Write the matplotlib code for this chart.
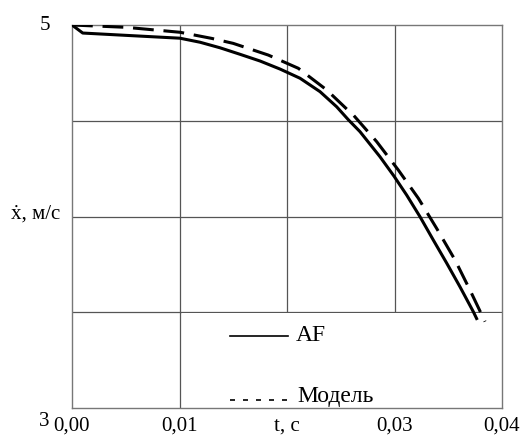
import matplotlib
matplotlib.use("Agg")
import matplotlib.pyplot as plt
from matplotlib.patches import Rectangle
from matplotlib.lines import Line2D

plt.rcParams['font.family'] = ['Liberation Serif', 'DejaVu Serif']

# Data
t_af = [0.0, 0.001, 0.005, 0.01005, 0.01191, 0.01377, 0.01563, 0.01749, 0.01935,
        0.02121, 0.02307, 0.02462, 0.02571, 0.02679, 0.02865, 0.02995, 0.03113,
        0.03237, 0.03361, 0.03486, 0.03609, 0.03733, 0.0377]
v_af = [5.0, 4.958, 4.946, 4.931, 4.910, 4.881, 4.847, 4.812, 4.770,
        4.722, 4.652, 4.573, 4.505, 4.443, 4.312, 4.211, 4.112,
        3.999, 3.877, 3.756, 3.633, 3.503, 3.460]

t_model = [0.0, 0.005, 0.01005, 0.013, 0.015, 0.01826, 0.02105, 0.02369, 0.02586,
           0.02617, 0.02834, 0.03035, 0.03222, 0.03392, 0.03563, 0.03702, 0.03842]
v_model = [5.0, 4.988, 4.962, 4.930, 4.904, 4.843, 4.774, 4.661, 4.545,
           4.530, 4.391, 4.243, 4.095, 3.938, 3.773, 3.616, 3.451]

x_ticks = [0.0, 0.01, 0.02, 0.03, 0.04]
x_ticklabels = ['0,00', '0,01', 't, c', '0,03', '0,04']
y_labels = [(5, '5'), (4, 'ẋ, м/с'), (3, '3')]
series_names = ['AF', 'Модель']

fig = plt.figure(figsize=(5.21, 4.45), dpi=100)
ax = fig.add_axes([72/521, (445-408)/445, 430/521, 383/445])
ax.set_xlim(0, 0.04)
ax.set_ylim(3, 5)

gcol = '#555555'
for xv in [0.01, 0.02, 0.03]:
    ax.axvline(xv, color=gcol, lw=0.9, zorder=1)
for yv in [3.5, 4.0, 4.5]:
    ax.axhline(yv, color=gcol, lw=0.9, zorder=1)
for s in ax.spines.values():
    s.set_color('#777777')
    s.set_linewidth(1.0)

# legend background box (covers grid lines)
ax.add_patch(Rectangle((0.0102, 3.0), 0.0298, 0.497, facecolor='white',
                       edgecolor='none', zorder=2))

ax.plot(t_af, v_af, color='black', lw=2.2, solid_capstyle='butt',
        solid_joinstyle='round', zorder=3)
ax.plot(t_model, v_model, color='black', lw=2.2, dashes=(6.8, 3.2),
        dash_joinstyle='round', zorder=3)

ax.set_xticks(x_ticks)
ax.set_xticklabels(x_ticklabels, fontsize=15)
ax.tick_params(axis='x', length=0, pad=6)
ax.set_yticks([])

offsets = {'5': (-16, 0), '3': (-16, -10)}
for yv, lab in y_labels:
    dx, dy = offsets.get(lab, (-8.5, 2))
    ax.annotate(lab, xy=(0, yv), xycoords=('axes fraction', 'data'),
                xytext=(dx, dy), textcoords='offset points',
                fontsize=15, ha='right', va='center')

# manual legend
ax.add_line(Line2D([0.0147, 0.0201], [3.376, 3.376], color='black', lw=1.2, zorder=4))
ax.text(0.02085, 3.381, series_names[0], fontsize=17, ha='left', va='center', zorder=4)
ax.add_line(Line2D([0.0147, 0.02056], [3.042, 3.042], color='black', lw=1.2,
                   dashes=(3, 4.8), zorder=4))
ax.text(0.0210, 3.062, series_names[1], fontsize=17, ha='left', va='center', zorder=4)

fig.savefig('out.png', dpi=100)
